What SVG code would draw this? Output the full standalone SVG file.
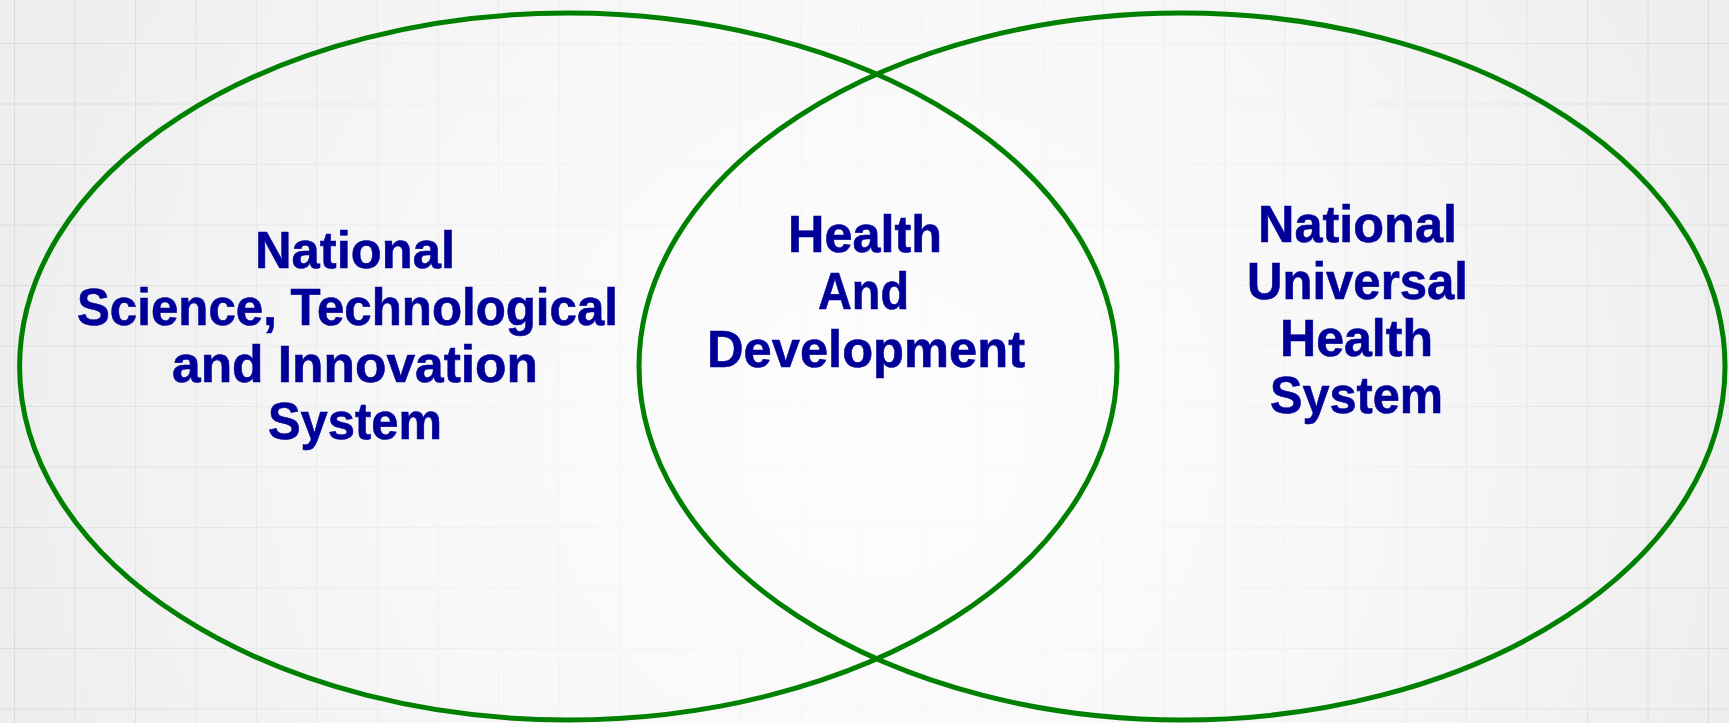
<svg xmlns="http://www.w3.org/2000/svg" width="1729" height="723" viewBox="0 0 1729 723">
  <defs>
    <pattern id="grid" x="14" y="43" width="60.5" height="60.5" patternUnits="userSpaceOnUse">
      <path d="M0 0 H60.5 M0 0 V60.5" fill="none" stroke="#dcdcdc" stroke-width="2"/>
    </pattern>
    <radialGradient id="glow" cx="880" cy="430" r="900" gradientUnits="userSpaceOnUse">
      <stop offset="0" stop-color="#ffffff" stop-opacity="0.9"/>
      <stop offset="0.5" stop-color="#ffffff" stop-opacity="0.6"/>
      <stop offset="1" stop-color="#ffffff" stop-opacity="0"/>
    </radialGradient>
  </defs>
  <style>
    .ring { fill: none; stroke: #008000; stroke-width: 5; }
    .lbl { font-family: "Liberation Sans", "DejaVu Sans", sans-serif; font-weight: bold; font-size: 52px; fill: #000099; stroke: #000099; stroke-width: 0.6; }
  </style>
  <g id="background">
    <rect width="1729" height="723" fill="#eeeeee"/>
    <rect width="1729" height="723" fill="url(#grid)"/>
    <rect width="1729" height="723" fill="url(#glow)"/>
  </g>
  <g id="connectors"></g>
  <g id="left-set">
    <ellipse class="ring" cx="568.3" cy="366.5" rx="548.7" ry="353.5"/>
    <text class="lbl" x="255" y="268" textLength="200" lengthAdjust="spacingAndGlyphs">National</text>
    <text class="lbl" x="77" y="325" textLength="541" lengthAdjust="spacingAndGlyphs">Science, Technological</text>
    <text class="lbl" x="172" y="382" textLength="366" lengthAdjust="spacingAndGlyphs">and Innovation</text>
    <text class="lbl" x="268" y="439" textLength="174" lengthAdjust="spacingAndGlyphs">System</text>
  </g>
  <g id="right-set">
    <ellipse class="ring" cx="1182" cy="366.5" rx="543" ry="353.5"/>
    <text class="lbl" x="1258" y="242" textLength="199" lengthAdjust="spacingAndGlyphs">National</text>
    <text class="lbl" x="1247" y="299" textLength="221" lengthAdjust="spacingAndGlyphs">Universal</text>
    <text class="lbl" x="1280" y="356" textLength="153" lengthAdjust="spacingAndGlyphs">Health</text>
    <text class="lbl" x="1270" y="413" textLength="173" lengthAdjust="spacingAndGlyphs">System</text>
  </g>
  <g id="intersection">
    <text class="lbl" x="788" y="252" textLength="154" lengthAdjust="spacingAndGlyphs">Health</text>
    <text class="lbl" x="818" y="309" textLength="91" lengthAdjust="spacingAndGlyphs">And</text>
    <text class="lbl" x="707" y="367" textLength="318" lengthAdjust="spacingAndGlyphs">Development</text>
  </g>
</svg>
